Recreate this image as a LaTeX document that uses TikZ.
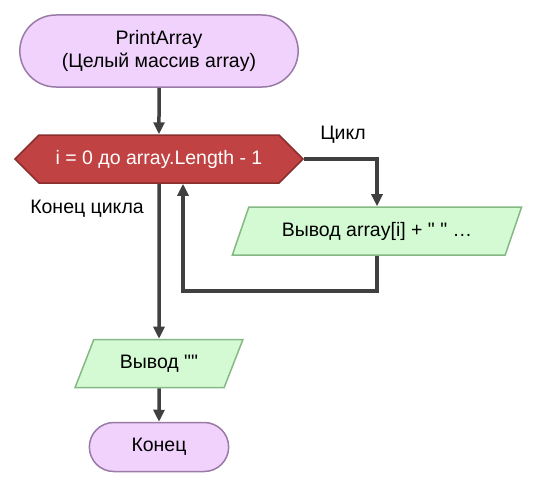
\documentclass[tikz,border=0pt]{standalone}
\usepackage{fontspec}
\setmainfont{Liberation Sans}[Ligatures=TeXOff]
\usetikzlibrary{shapes.misc,shapes.symbols,shapes.geometric,arrows.meta}
\definecolor{termfill}{HTML}{F0D2FC}
\definecolor{termline}{HTML}{9A7AA6}
\definecolor{loopfill}{HTML}{C04242}
\definecolor{loopline}{HTML}{8A2E2E}
\definecolor{iofill}{HTML}{D4FAD4}
\definecolor{ioline}{HTML}{86B886}
\definecolor{flowline}{HTML}{404040}
\begin{document}
\begin{tikzpicture}[x=1pt,y=-1pt,
    font=\fontsize{19.5}{23}\selectfont,
    terminal/.style={rounded rectangle, draw=termline, fill=termfill, line width=1.5pt, align=center},
    loophead/.style={signal, signal to=west and east, signal pointer angle=90, draw=loopline, fill=loopfill, line width=1.5pt, text=white, minimum width=288pt, minimum height=48pt},
    iobox/.style={trapezium, trapezium left angle=63, trapezium right angle=117, trapezium stretches=true, draw=ioline, fill=iofill, line width=1.5pt, minimum height=48pt},
    flow/.style={draw=flowline, line width=3.5pt, -{Triangle[length=12pt,width=11pt]}}]
    \useasboundingbox (0,0) rectangle (535,487);
    \node[terminal, minimum width=285pt, minimum height=72pt] (start) at (159,51) {PrintArray\\(Целый массив array)};
    \node[loophead] (loop) at (159,159) {i = 0 до array.Length - 1};
    \node[iobox, minimum width=290pt] (body) at (377,231) {Вывод array[i] + " " …};
    \node[iobox, minimum width=168pt] (out) at (159,363.5) {Вывод ""};
    \node[terminal, minimum width=146pt, minimum height=49pt] (stop) at (159,447) {Конец};
    \node (cyc) at (343,135) {Цикл};
    \node (endcyc) at (87,209) {Конец цикла};
    \coordinate (back) at (183,291);
    \draw[flow] (start) -- (loop);
    \draw[flow] (loop.east) -| (body.north);
    \draw[flow] (body.south) |- (back) -- (loop.south -| back);
    \draw[flow] (loop) -- (out);
    \draw[flow] (out) -- (stop);
\end{tikzpicture}
\end{document}
